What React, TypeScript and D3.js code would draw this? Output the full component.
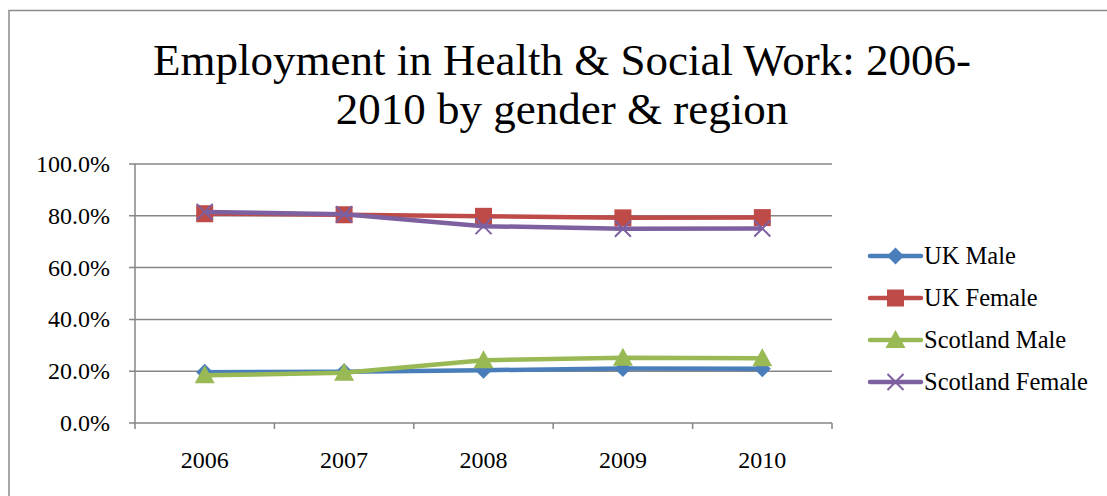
import React from "react";
import * as d3 from "d3";

const years = ["2006", "2007", "2008", "2009", "2010"];
const ukMale = [19.6, 19.8, 20.4, 21.0, 20.9];
const ukFemale = [80.8, 80.4, 79.8, 79.2, 79.3];
const scotlandMale = [18.4, 19.4, 24.2, 25.2, 25.0];
const scotlandFemale = [81.5, 80.6, 76.0, 75.0, 75.1];
const yTicks = [0, 20, 40, 60, 80, 100];
const titleLines = ["Employment in Health & Social Work: 2006-", "2010 by gender & region"];

const seriesList = [
  { name: "UK Male", values: ukMale, color: "#4A7EBB", marker: "diamond" },
  { name: "UK Female", values: ukFemale, color: "#BE4B48", marker: "square" },
  { name: "Scotland Male", values: scotlandMale, color: "#98B954", marker: "triangle" },
  { name: "Scotland Female", values: scotlandFemale, color: "#7D60A0", marker: "x" },
];

const FONT = "'Liberation Serif', 'Times New Roman', serif";

function Marker({ type, x, y, color }: { type: string; x: number; y: number; color: string }) {
  if (type === "diamond") {
    const s = 8.5;
    return <path d={`M${x},${y - s}L${x + s},${y}L${x},${y + s}L${x - s},${y}Z`} fill={color} />;
  }
  if (type === "square") {
    const s = 8.5;
    return <rect x={x - s} y={y - s} width={2 * s} height={2 * s} fill={color} />;
  }
  if (type === "triangle") {
    const s = 10;
    return <path d={`M${x},${y - s}L${x + s},${y + s * 0.8}L${x - s},${y + s * 0.8}Z`} fill={color} />;
  }
  const s = 8;
  return (
    <path
      d={`M${x - s},${y - s}L${x + s},${y + s}M${x - s},${y + s}L${x + s},${y - s}`}
      stroke={color}
      strokeWidth={2}
      fill="none"
    />
  );
}

export default function App() {
  const W = 1107;
  const H = 496;
  const left = 135;
  const right = 832;
  const top = 164;
  const bottom = 423;

  const x = d3.scaleBand<string>().domain(years).range([left, right]);
  const y = d3.scaleLinear().domain([0, 100]).range([bottom, top]);
  const line = d3
    .line<number>()
    .x((_, i) => (x(years[i]) as number) + x.bandwidth() / 2)
    .y((v) => y(v));

  const legendY = [256, 298, 340, 382];

  return (
    <svg
      width={W}
      height={H}
      style={{ position: "absolute", left: 0, top: 0, background: "#fff" }}
      fontFamily={FONT}
    >
      <rect x={9} y={10.5} width={1110} height={500} fill="#fff" stroke="#8c8c8c" strokeWidth={1.5} />
      {titleLines.map((t, i) => (
        <text key={i} x={562} y={75 + i * 49} textAnchor="middle" fontSize={45} fill="#000">
          {t}
        </text>
      ))}
      {/* gridlines */}
      {yTicks.map((t) => (
        <g key={t}>
          <line x1={left - 6} x2={right} y1={y(t)} y2={y(t)} stroke="#868686" strokeWidth={1.5} />
          <text x={110} y={y(t) + 8} textAnchor="end" fontSize={24} fill="#000">
            {t.toFixed(1) + "%"}
          </text>
        </g>
      ))}
      <line x1={left} x2={left} y1={top} y2={bottom} stroke="#868686" strokeWidth={1.5} />
      {years.map((yr, i) => (
        <g key={yr}>
          <line
            x1={(x(yr) as number) + x.bandwidth()}
            x2={(x(yr) as number) + x.bandwidth()}
            y1={bottom}
            y2={bottom + 6}
            stroke="#868686"
            strokeWidth={1.5}
          />
          <text
            x={(x(yr) as number) + x.bandwidth() / 2}
            y={468}
            textAnchor="middle"
            fontSize={24}
            fill="#000"
          >
            {yr}
          </text>
        </g>
      ))}
      <line x1={left} x2={left} y1={bottom} y2={bottom + 6} stroke="#868686" strokeWidth={1.5} />
      {seriesList.map((s) => (
        <g key={s.name}>
          <path d={line(s.values) as string} fill="none" stroke={s.color} strokeWidth={4.5} strokeLinejoin="round" />
          {s.values.map((v, i) => (
            <Marker
              key={i}
              type={s.marker}
              x={(x(years[i]) as number) + x.bandwidth() / 2}
              y={y(v)}
              color={s.color}
            />
          ))}
        </g>
      ))}
      {seriesList.map((s, i) => (
        <g key={s.name}>
          <line x1={870} x2={921} y1={legendY[i]} y2={legendY[i]} stroke={s.color} strokeWidth={4.5} strokeLinecap="round" />
          <Marker type={s.marker} x={895.5} y={legendY[i]} color={s.color} />
          <text x={924} y={legendY[i] + 8} fontSize={24.5} fill="#000">
            {s.name}
          </text>
        </g>
      ))}
    </svg>
  );
}
